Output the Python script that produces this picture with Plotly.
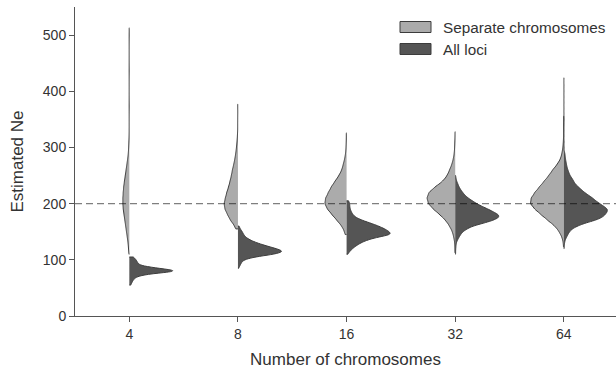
import numpy as np
import plotly.graph_objects as go

categories = ["4", "8", "16", "32", "64"]

# ---- Separate chromosomes (light half): Ne value bins and relative density
sep_bins_4 = [110, 120, 130, 140, 150, 160, 170, 180, 190, 200, 210, 220, 230, 240, 250, 260, 270, 280, 290, 300,
              310, 320, 330, 340, 350, 360, 370, 380, 390, 400, 410, 420, 430, 440, 450, 460, 470, 480, 490, 500, 513]
sep_dens_4 = [0.5, 1, 1.5, 2.5, 3.5, 4.5, 5.5, 6.5, 7.5, 8, 8, 7.5, 7, 6, 5, 4, 3, 2, 1.2, 0.8,
              0.5, 0.3, 0.2, 0.2, 0.2, 0.2, 0.2, 0.2, 0.2, 0.2, 0.2, 0.2, 0.2, 0.2, 0.2, 0.2, 0.2, 0.2, 0.2, 0.2, 0.2]

sep_bins_8 = [155, 160, 170, 180, 190, 200, 210, 220, 230, 240, 250, 260, 270, 280, 290, 300, 310, 320, 330, 340,
              350, 360, 370, 377]
sep_dens_8 = [1, 3, 8, 11, 14, 15, 13.5, 12, 10, 8.5, 7, 6, 4.5, 3.3, 2.3, 1.6, 1, 0.6, 0.3, 0.3,
              0.3, 0.2, 0.2, 0.2]

sep_bins_16 = [145, 150, 160, 170, 180, 190, 200, 210, 220, 230, 240, 250, 260, 270, 280, 290, 300, 310, 320, 326]
sep_dens_16 = [0.5, 2, 5, 10, 15, 20, 23, 22, 19, 16, 12, 8, 5, 3.5, 2, 1, 0.6, 0.4, 0.2, 0.2]

sep_bins_32 = [112, 120, 130, 140, 150, 160, 170, 180, 190, 200, 210, 220, 230, 240, 250, 260, 270, 280, 290, 300,
               310, 320, 328]
sep_dens_32 = [0.2, 0.3, 0.5, 1.5, 3, 6, 10, 16, 23, 28.5, 30, 28, 21, 13, 8.5, 6, 3.5, 2, 1, 0.6,
               0.4, 0.2, 0.2]

sep_bins_64 = [123, 130, 140, 150, 160, 170, 180, 190, 200, 210, 220, 230, 240, 250, 260, 270, 280, 290, 300, 310,
               320, 330, 340, 356]
sep_dens_64 = [0.3, 0.5, 2, 5, 9.5, 17, 24, 31, 36, 35, 31, 26, 21, 16, 12, 7, 3.5, 2, 1, 0.6,
               0.3, 0.3, 0.3, 0.2]

# ---- All loci (dark half)
all_bins_4 = [55, 60, 65, 70, 75, 80, 85, 90, 95, 100, 105]
all_dens_4 = [1, 2, 3, 5, 13, 40, 20, 7, 6, 5, 3]

all_bins_8 = [85, 90, 95, 100, 105, 110, 115, 120, 125, 130, 135, 140, 145, 150, 155, 160]
all_dens_8 = [0.5, 2, 3, 5, 14, 33, 42, 34, 25, 17, 11, 7, 5, 4, 2, 1]

all_bins_16 = [110, 115, 120, 125, 130, 135, 140, 145, 150, 155, 160, 165, 170, 175, 180, 185, 190, 195, 200, 205]
all_dens_16 = [1, 3, 5.5, 9, 13, 19, 28, 43, 40, 36, 30, 23, 15, 9, 6, 4.5, 3.5, 3, 3, 2]

all_bins_32 = [110, 115, 120, 125, 130, 135, 140, 145, 150, 155, 160, 165, 170, 175, 180, 185, 190, 195, 200, 205,
               210, 215, 220, 225, 230, 235, 240, 245, 250]
all_dens_32 = [0.3, 0.3, 0.5, 0.7, 1, 2, 3.5, 5, 7, 11, 16, 26, 35, 41, 41, 36, 31, 25, 20, 16,
               12, 9, 7, 5, 3.5, 2.5, 1.3, 0.7, 0.3]

all_bins_64 = [120, 125, 130, 135, 140, 145, 150, 155, 160, 165, 170, 175, 180, 185, 190, 195, 200, 205, 210, 215,
               220, 225, 230, 235, 240, 245, 250, 255, 260, 265, 270, 275, 280, 285, 290, 300, 310, 320, 330, 340,
               350, 360, 370, 380, 390, 400, 410, 424]
all_dens_64 = [0.3, 0.4, 0.6, 1.2, 2.5, 4, 5.5, 8, 13, 20, 30, 37, 40, 42, 43, 39, 35, 31, 28, 24,
               20, 17, 14, 11, 9.5, 8, 6, 5, 4, 3, 2.5, 2, 1.5, 1.2, 1, 0.4, 0.3, 0.2, 0.2, 0.2,
               0.2, 0.2, 0.2, 0.2, 0.2, 0.2, 0.2, 0.2]

sep_data = [(sep_bins_4, sep_dens_4), (sep_bins_8, sep_dens_8), (sep_bins_16, sep_dens_16),
            (sep_bins_32, sep_dens_32), (sep_bins_64, sep_dens_64)]
all_data = [(all_bins_4, all_dens_4), (all_bins_8, all_dens_8), (all_bins_16, all_dens_16),
            (all_bins_32, all_dens_32), (all_bins_64, all_dens_64)]

reference_ne = 200
SAMPLES_PER_HALF = 3000

LIGHT = "#ababab"
DARK = "#555555"
OUTLINE = "#3c3c3c"
FONT = "Liberation Sans, Arial, sans-serif"
TEXT = "#333333"


def expand(bins, dens):
    d = np.asarray(dens, float)
    counts = np.maximum(np.round(d / d.sum() * SAMPLES_PER_HALF), 1).astype(int)
    return np.repeat(np.asarray(bins, float), counts)


fig = go.Figure()
for cat, (sb, sd), (ab, ad) in zip(categories, sep_data, all_data):
    s = expand(sb, sd)
    a = expand(ab, ad)
    common = dict(scalegroup=cat, scalemode="count", points=False, box_visible=False,
                  meanline_visible=False, spanmode="hard", showlegend=False, hoverinfo="skip",
                  line=dict(color=OUTLINE, width=1))
    fig.add_trace(go.Violin(x=[cat] * len(s), y=s, side="negative", fillcolor=LIGHT,
                            bandwidth=5.5, name="Separate chromosomes", **common))
    fig.add_trace(go.Violin(x=[cat] * len(a), y=a, side="positive", fillcolor=DARK,
                            bandwidth=3.2, name="All loci", **common))

fig.add_hline(y=reference_ne, line=dict(color="rgba(0,0,0,0.5)", width=1.3, dash="7px,4px"), layer="above")

# legend (patches + labels)
L, R, T, B = 75, 616, 7, 316
def px(x):
    return (x - L) / (R - L)
def py(y):
    return (B - y) / (B - T)

for (y0, y1, col, label) in [(21.5, 32.5, LIGHT, "Separate chromosomes"), (43.5, 54.5, DARK, "All loci")]:
    fig.add_shape(type="rect", xref="paper", yref="paper", x0=px(400), x1=px(431), y0=py(y1), y1=py(y0),
                  fillcolor=col, line=dict(color=OUTLINE, width=1))
    fig.add_annotation(xref="paper", yref="paper", x=px(441), y=py((y0 + y1) / 2), text=label,
                       showarrow=False, xanchor="left", yanchor="middle",
                       font=dict(family=FONT, size=15.3, color=TEXT))

fig.update_layout(
    width=616, height=375,
    margin=dict(l=L, r=616 - R, t=T, b=375 - B),
    paper_bgcolor="white", plot_bgcolor="white",
    violinmode="overlay", violingap=0.2, violingroupgap=0,
    showlegend=False,
    font=dict(family=FONT, size=14, color=TEXT),
)
fig.update_xaxes(
    type="category", categoryorder="array", categoryarray=categories,
    range=[-0.5, 4.48], showline=True, linecolor="#555555", linewidth=1,
    ticks="outside", ticklen=5, tickcolor="#555555", showgrid=False, zeroline=False,
    tickfont=dict(size=14, color=TEXT), automargin=False,
    title=dict(text="Number of chromosomes", font=dict(size=17, color=TEXT), standoff=12),
)
fig.update_yaxes(
    range=[0, 550], tickvals=[0, 100, 200, 300, 400, 500],
    showline=True, linecolor="#555555", linewidth=1,
    ticks="outside", ticklen=5, tickcolor="#555555", showgrid=False, zeroline=False,
    tickfont=dict(size=14, color=TEXT), automargin=False,
    title=dict(text="Estimated Ne", font=dict(size=17, color=TEXT), standoff=14),
)

fig.write_html("out.html", config={"displayModeBar": False},
               post_script="document.body.style.margin='0';document.body.style.padding='0';")
